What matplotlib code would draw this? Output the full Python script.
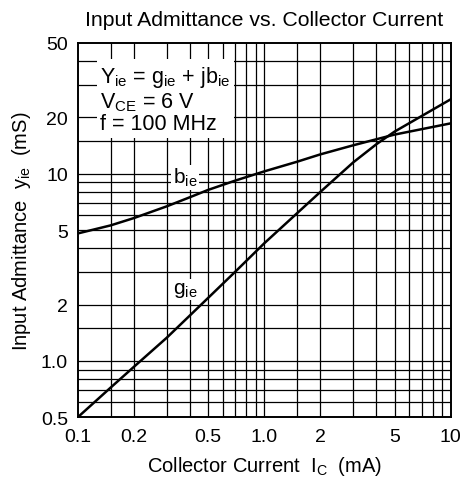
import numpy as np
import matplotlib
matplotlib.use("Agg")
import matplotlib.pyplot as plt

plt.rcParams['font.family'] = ['Liberation Sans', 'DejaVu Sans']
plt.rcParams['mathtext.fontset'] = 'custom'
plt.rcParams['mathtext.rm'] = 'Liberation Sans'
plt.rcParams['mathtext.it'] = 'Liberation Sans'

# curves
ic_b = [0.1, 0.15, 0.2, 0.3, 0.4, 0.5, 0.7, 1.0, 1.5, 2.0, 3.0, 4.0, 5.0, 10.0]
b_ie = [4.8, 5.3, 5.8, 6.7, 7.5, 8.2, 9.2, 10.3, 11.6, 12.7, 14.2, 15.3, 16.2, 18.6]

ic_g = [0.1, 0.15, 0.2, 0.3, 0.5, 0.7, 1.0, 2.0, 3.0, 4.0, 5.0, 10.0]
g_ie = [0.5, 0.72, 0.93, 1.33, 2.17, 3.0, 4.25, 8.0, 11.5, 14.4, 16.8, 25.0]

x_ticks = [0.1, 0.2, 0.5, 1.0, 2, 5, 10]
x_ticklabels = ['0.1', '0.2', '0.5', '1.0', '2', '5', '10']
y_ticks = [0.5, 1.0, 2, 5, 10, 20, 50]
y_ticklabels = ['0.5', '1.0', '2', '5', '10', '20', '50']

x_grid = [0.15, 0.2, 0.3, 0.4, 0.5, 0.6, 0.7, 0.8, 0.9, 1.0,
          1.5, 2, 3, 4, 5, 6, 7, 8, 9]
y_grid = [0.6, 0.7, 0.8, 0.9, 1.0, 1.5, 2, 3, 4, 5, 6, 7, 8, 9, 10,
          15, 20, 30, 40]

fig = plt.figure(figsize=(4.67, 4.85), dpi=100)
ax = fig.add_axes([0.1664, 0.1375, 0.7986, 0.7718])
ax.set_xscale('log')
ax.set_yscale('log')
ax.set_xlim(0.1, 10)
ax.set_ylim(0.5, 50)

for v in x_grid:
    ax.axvline(v, color='black', lw=0.9, zorder=1)
for v in y_grid:
    ax.axhline(v, color='black', lw=0.9, zorder=1)

ax.plot(ic_b, b_ie, color='black', lw=1.8, zorder=3)
ax.plot(ic_g, g_ie, color='black', lw=1.8, zorder=3)

ax.set_xticks(x_ticks)
ax.set_xticklabels(x_ticklabels)
ax.set_yticks(y_ticks)
ax.set_yticklabels(y_ticklabels)
ax.minorticks_off()
ax.tick_params(length=0, labelsize=14, colors='black')
ax.tick_params(axis='x', pad=8)
ax.tick_params(axis='y', pad=7)
for s in ax.spines.values():
    s.set_linewidth(1.4)

ax.text(0.376, 9.6, r'$\mathregular{b_{ie}}$', fontsize=15, ha='center', va='center',
        bbox=dict(facecolor='white', edgecolor='none', pad=1.0), zorder=4)
ax.text(0.376, 2.41, r'$\mathregular{g_{ie}}$', fontsize=15, ha='center', va='center',
        bbox=dict(facecolor='white', edgecolor='none', pad=1.0), zorder=4)

ax.text(0.132, 38.5, r'$\mathregular{Y_{ie}}$ = $\mathregular{g_{ie}}$ + j$\mathregular{b_{ie}}$'
        '\n' r'$\mathregular{V_{CE}}$ = 6 V' '\n' 'f = 100 MHz',
        fontsize=15.5, ha='left', va='top', linespacing=1.05,
        bbox=dict(facecolor='white', edgecolor='none', pad=2.5), zorder=4)

ax.set_title('Input Admittance vs. Collector Current', fontsize=15.3, pad=13)
ax.set_xlabel(r'Collector Current  $\mathregular{I_C}$  (mA)', fontsize=14.5, labelpad=6)
ax.set_ylabel(r'Input Admittance  $\mathregular{y_{ie}}$  (mS)', fontsize=14.5, labelpad=6)

fig.savefig('out.png', dpi=100)
